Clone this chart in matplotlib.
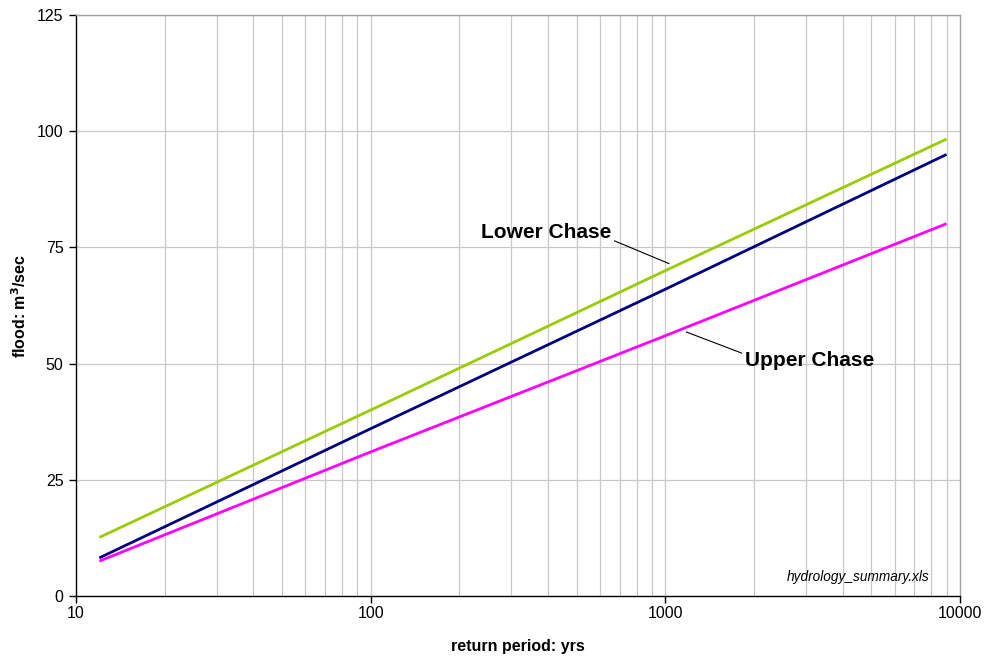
import matplotlib
matplotlib.use("Agg")
import matplotlib.pyplot as plt
from matplotlib.ticker import FixedLocator, NullFormatter, NullLocator

plt.rcParams['font.family'] = ['Liberation Sans', 'DejaVu Sans']

return_period = [12, 100, 1000, 9000]
lower_chase = [12.6, 40.0, 70.0, 98.3]
total = [8.2, 36.0, 66.0, 95.0]
upper_chase = [7.5, 31.0, 56.0, 80.1]
x_ticks = [10, 100, 1000, 10000]
x_tick_labels = ['10', '100', '1000', '10000']
y_ticks = [0, 25, 50, 75, 100, 125]

fig = plt.figure(figsize=(9.87, 6.6), dpi=100)
ax = fig.add_axes([76/987, 1-596/660, (960-76)/987, (596-15)/660])

ax.set_xscale('log')
ax.set_xlim(10, 10000)
ax.set_ylim(0, 125)

grid_minor = [m * 10**e for e in range(1, 4) for m in range(2, 10)]
for v in grid_minor:
    ax.axvline(v, color='#c8c8c8', lw=0.9, zorder=0)
for v in x_ticks[1:-1]:
    ax.axvline(v, color='#c8c8c8', lw=0.9, zorder=0)
for v in y_ticks[1:]:
    ax.axhline(v, color='#c8c8c8', lw=0.9, zorder=0)

ax.plot(return_period, lower_chase, color='#99cc00', lw=2.0, solid_capstyle='butt', zorder=3)
ax.plot(return_period, total, color='#000080', lw=2.0, solid_capstyle='butt', zorder=3)
ax.plot(return_period, upper_chase, color='#ff00ff', lw=2.0, solid_capstyle='butt', zorder=3)

ax.xaxis.set_major_locator(FixedLocator(x_ticks))
ax.set_xticklabels(x_tick_labels)
ax.xaxis.set_minor_locator(NullLocator())
ax.xaxis.set_minor_formatter(NullFormatter())
ax.set_yticks(y_ticks)

ax.tick_params(axis='x', direction='out', length=5, width=1, labelsize=11.5, colors='black', pad=2)
ax.tick_params(axis='y', direction='out', length=5, width=1, labelsize=11.5, colors='black', pad=4)

for s in ['top', 'right']:
    ax.spines[s].set_color('#a0a0a0')
    ax.spines[s].set_linewidth(1.0)
for s in ['left', 'bottom']:
    ax.spines[s].set_color('black')
    ax.spines[s].set_linewidth(1.0)

ax.set_xlabel('return period: yrs', fontsize=11.5, fontweight='bold', labelpad=13)
ax.set_ylabel('flood: m$^\\mathbf{3}$/sec', fontsize=11.5, fontweight='bold', labelpad=6)

ax.annotate('Lower Chase', xy=(1030, 71.5), xytext=(395, 78.3),
            fontsize=15, fontweight='bold', ha='center', va='center',
            arrowprops=dict(arrowstyle='-', color='black', lw=0.8,
                            shrinkA=0, shrinkB=0, relpos=(1.0, 0.1)))
ax.annotate('Upper Chase', xy=(1178, 56.8), xytext=(3076, 50.6),
            fontsize=15, fontweight='bold', ha='center', va='center',
            arrowprops=dict(arrowstyle='-', color='black', lw=0.8,
                            shrinkA=0, shrinkB=0, relpos=(0.0, 0.85)))

ax.text(0.966, 0.033, 'hydrology_summary.xls', transform=ax.transAxes,
        fontsize=9.8, style='italic', ha='right', va='center')

fig.savefig('out.png', dpi=100)
